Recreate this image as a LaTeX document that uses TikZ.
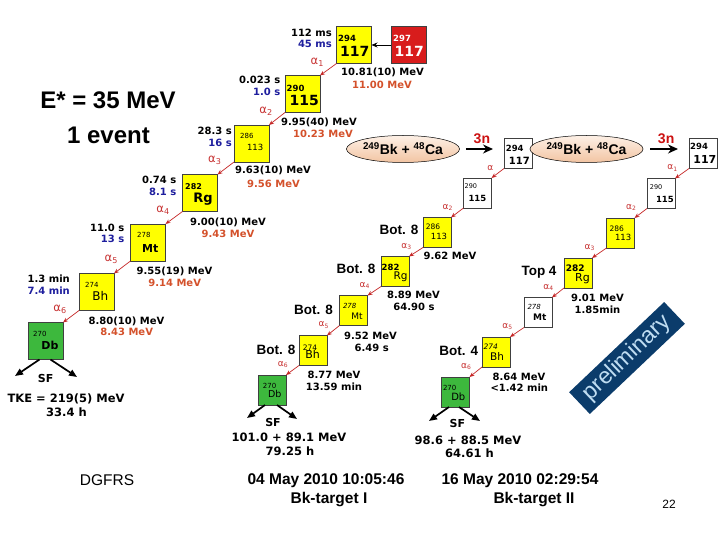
\documentclass[tikz,border=0pt]{standalone}
\usepackage{fontspec}
\setmainfont{DejaVu Sans}
\newfontfamily\arialf{Liberation Sans}
\usetikzlibrary{arrows.meta,shapes.geometric}
\definecolor{nyel}{HTML}{FFFF00}
\definecolor{nred}{HTML}{D81C1C}
\definecolor{ngrn}{HTML}{3DB83D}
\definecolor{tblue}{HTML}{1E1E9E}
\definecolor{tora}{HTML}{D4512B}
\definecolor{ared}{HTML}{C62828}
\definecolor{alabc}{HTML}{C83434}
\definecolor{bann}{HTML}{0B3C6B}
\definecolor{banntxt}{HTML}{BFDDF2}
\definecolor{peachA}{HTML}{FDF0E6}
\definecolor{peachB}{HTML}{F2C4A2}
\definecolor{redn}{HTML}{CC1111}
\newcommand\nfb[1]{\fontsize{#1}{#1}\selectfont\bfseries}
\newcommand\nfr[1]{\fontsize{#1}{#1}\selectfont\mdseries}
\newcommand\nfi[1]{\fontsize{#1}{#1}\selectfont\mdseries\itshape}
\newcommand\nbox[4]{\node[#2,fill=#4] (#1) at (#3) {};}
\newcommand\nmass[5]{\node[anchor=west,inner sep=0pt,text=#5,font=#3] (#1m) at ([shift={(#2)}]#1.west) {#4};}
\newcommand\nsym[5]{\node[anchor=east,inner sep=0pt,text=#5,font=#3] (#1s) at ([shift={(#2)}]#1.east) {#4};}
\newcommand\alf[1]{α\textsubscript{#1}}
\tikzset{
 nb/.style={draw=black!75, line width=0.5pt, inner sep=0pt, outer sep=0pt},
 bigb/.style={nb, minimum width=35pt, minimum height=37pt},
 smb/.style={nb, minimum width=28pt, minimum height=30pt},
 hl/.style={anchor=base east, inner sep=0pt, font=\nfb{10}},
 en/.style={anchor=base, inner sep=0pt, font=\nfb{10}},
 sfl/.style={anchor=base, inner sep=0pt, font=\nfb{11.5}},
 bot/.style={anchor=base, inner sep=0pt, font=\arialf\nfb{13.5}},
 aar/.style={draw=ared, line width=0.7pt, -{Stealth[length=5pt,width=4pt]}},
 alab/.style={text=alabc, anchor=south east, inner sep=1pt, font=\nfr{11.5}, xshift=-3pt, yshift=2pt},
 alabs/.style={text=alabc, anchor=south east, inner sep=1pt, font=\nfr{9}, xshift=-3pt, yshift=1pt},
 sfa/.style={line width=1.7pt, -{Triangle[length=8pt,width=6.5pt]}},
 nar/.style={line width=1.3pt, shorten <=6pt, shorten >=11pt, -{Stealth[length=10pt,width=9pt]}},
 rxn/.style={ellipse, draw=black, line width=0.5pt, top color=peachA, bottom color=peachB, minimum width=84pt, minimum height=27pt, inner sep=0pt, font=\arialf\nfb{14}},
 big/.style={anchor=base, inner sep=0pt, font=\arialf\nfb{24}},
 datel/.style={anchor=base, inner sep=0pt, font=\arialf\nfb{15.5}},
 threen/.style={above=5pt, inner sep=0pt, text=redn, font=\arialf\nfb{14}},
}
\begin{document}
\begin{tikzpicture}[x=1pt,y=-1pt]
\fill[white] (0,0) rectangle (720,540);
\useasboundingbox (0,0) rectangle (720,540);

% ---------- headline texts
\node[big] (estar) at (108,109) {E* = 35 MeV};
\node[big] (oneev) at (108.5,144) {1 event};
\node[anchor=base,inner sep=0pt,font=\arialf\nfr{15.5}] (dgfrs) at (107,485) {DGFRS};

% ---------- chain 1 (DGFRS)
\nbox{n297}{bigb}{408.5,45}{nred}
\nmass{n297}{2,-7}{\nfb{8.5}}{297}{white}
\nsym{n297}{-2,6}{\nfb{14}}{117}{white}
\nbox{n294a}{bigb}{354,45}{nyel}
\nmass{n294a}{1.5,-7}{\nfb{8.5}}{294}{black}
\nsym{n294a}{-2,6}{\nfb{14}}{117}{black}
\nbox{n290a}{bigb}{302.5,94}{nyel}
\nmass{n290a}{1.5,-6}{\nfb{8.5}}{290}{black}
\nsym{n290a}{-1,6}{\nfb{14}}{115}{black}
\nbox{n286a}{bigb}{251.5,143.5}{nyel}
\nmass{n286a}{6,-7.5}{\nfr{7}}{286}{black}
\nsym{n286a}{-5.5,4}{\nfr{8.5}}{113}{black}
\nbox{n282a}{bigb}{200,193}{nyel}
\nmass{n282a}{2.5,-6}{\nfb{8}}{282}{black}
\nsym{n282a}{-4.5,6}{\nfb{13}}{Rg}{black}
\nbox{n278a}{bigb}{148,242.5}{nyel}
\nmass{n278a}{6.5,-7.5}{\nfr{7}}{278}{black}
\nsym{n278a}{-7,6}{\nfb{11}}{Mt}{black}
\nbox{n274a}{bigb}{96.5,292}{nyel}
\nmass{n274a}{6,-7.5}{\nfr{7}}{274}{black}
\nsym{n274a}{-5.5,4.3}{\nfr{12}}{Bh}{black}
\nbox{n270a}{bigb}{45.5,341}{ngrn}
\nmass{n270a}{5,-7.5}{\nfr{7}}{270}{black}
\nsym{n270a}{-4.4,4.5}{\nfb{11}}{Db}{black}

\draw[line width=0.8pt,-{Stealth[length=6pt,width=5pt]}] (n297.west) -- (n294a.east);
\draw[aar] (n294a.south west) -- node[alab]{\alf{1}} (n290a.north east);
\draw[aar] (n290a.south west) -- node[alab]{\alf{2}} (n286a.north east);
\draw[aar] (n286a.south west) -- node[alab]{\alf{3}} (n282a.north east);
\draw[aar] (n282a.south west) -- node[alab]{\alf{4}} (n278a.north east);
\draw[aar] (n278a.south west) -- node[alab]{\alf{5}} (n274a.north east);
\draw[aar] (n274a.south west) -- node[alab]{\alf{6}} (n270a.north east);

\node[hl] (h1a) at (332,36.5) {112 ms};
\node[hl,text=tblue] (h1b) at (332,47.5) {45 ms};
\node[hl] (h2a) at (280.5,83.5) {0.023 s};
\node[hl,text=tblue] (h2b) at (280.5,96) {1.0 s};
\node[hl] (h3a) at (232,135) {28.3 s};
\node[hl,text=tblue] (h3b) at (232,147) {16 s};
\node[hl] (h4a) at (176.5,184) {0.74 s};
\node[hl,text=tblue] (h4b) at (176.5,195.7) {8.1 s};
\node[hl] (h5a) at (124.5,231.7) {11.0 s};
\node[hl,text=tblue] (h5b) at (124.5,243) {13 s};
\node[hl] (h6a) at (70,282) {1.3 min};
\node[hl,text=tblue] (h6b) at (70,294) {7.4 min};

\node[en] (e1a) at (382.5,75.5) {10.81(10) MeV};
\node[en,text=tora] (e1b) at (382,89) {11.00 MeV};
\node[en] (e2a) at (319,125.5) {9.95(40) MeV};
\node[en,text=tora] (e2b) at (323,138) {10.23 MeV};
\node[en] (e3a) at (273,173.3) {9.63(10) MeV};
\node[en,text=tora] (e3b) at (273.5,187.3) {9.56 MeV};
\node[en] (e4a) at (228,225.7) {9.00(10) MeV};
\node[en,text=tora] (e4b) at (228,237.3) {9.43 MeV};
\node[en] (e5a) at (174.5,274) {9.55(19) MeV};
\node[en,text=tora] (e5b) at (174.7,286.7) {9.14 MeV};
\node[en] (e6a) at (126.5,324) {8.80(10) MeV};
\node[en,text=tora] (e6b) at (126.7,335) {8.43 MeV};

\coordinate (sfl1) at (15,376);
\coordinate (sfr1) at (77,377);
\draw[sfa] ([xshift=-6pt]n270a.south) -- (sfl1);
\draw[sfa] ([xshift=5pt]n270a.south) -- (sfr1);
\node[sfl,font=\nfb{11}] (sf1) at (45.7,382.7) {SF};
\node[sfl] (tke) at (66,402.7) {TKE = 219(5) MeV};
\node[sfl] (t1) at (66.5,416.7) {33.4 h};

% ---------- chain 2 (Bk-target I)
\node[rxn] (rx1) at (403,149) {\textsuperscript{249}Bk + \textsuperscript{48}Ca};
\nbox{m294}{smb}{518,153.5}{white}
\nmass{m294}{1.7,-5.5}{\nfb{8.5}}{294}{black}
\nsym{m294}{-2,7}{\nfb{10}}{117}{black}
\draw[nar] (rx1.east) -- node[threen] (n3a) {3n} (rx1.east -| m294.west);
\nbox{m290}{smb}{477.5,193}{white}
\nmass{m290}{1,-7}{\nfr{6.5}}{290}{black}
\nsym{m290}{-5,5.7}{\nfb{8.5}}{115}{black}
\nbox{m286}{smb}{437,232.5}{nyel}
\nmass{m286}{2.7,-6}{\nfr{7.5}}{286}{black}
\nsym{m286}{-3.7,3.5}{\nfr{8.5}}{113}{black}
\nbox{m282}{smb}{395,271.5}{nyel}
\nmass{m282}{0.5,-4.5}{\nfb{8.5}}{282}{black}
\nsym{m282}{-1.3,5.5}{\nfr{10.5}}{Rg}{black}
\nbox{m278}{smb}{353.5,310.5}{nyel}
\nmass{m278}{3.3,-4.5}{\nfi{7}}{278}{black}
\nsym{m278}{-4.7,5.5}{\nfr{9}}{Mt}{black}
\nbox{m274}{smb}{313,350.5}{nyel}
\nmass{m274}{3.7,-2.5}{\nfr{7.5}}{274}{black}
\nsym{m274}{-7,4}{\nfr{11}}{Bh}{black}
\nbox{m270}{smb}{272,390}{ngrn}
\nmass{m270}{4.7,-3.7}{\nfr{7}}{270}{black}
\nsym{m270}{-4.3,3.7}{\nfr{9.5}}{Db}{black}

\draw[aar] (m294.south west) -- node[alabs]{α} (m290.north east);
\draw[aar] (m290.south west) -- node[alabs]{\alf{2}} (m286.north east);
\draw[aar] (m286.south west) -- node[alabs]{\alf{3}} (m282.north east);
\draw[aar] (m282.south west) -- node[alabs]{\alf{4}} (m278.north east);
\draw[aar] (m278.south west) -- node[alabs]{\alf{5}} (m274.north east);
\draw[aar] (m274.south west) -- node[alabs]{\alf{6}} (m270.north east);

\node[bot] (b1) at (399,234.3) {Bot. 8};
\node[en] (f1) at (450,259.3) {9.62 MeV};
\node[bot] (b2) at (356,273.3) {Bot. 8};
\node[en] (f2a) at (413.5,298.3) {8.89 MeV};
\node[en] (f2b) at (414,310.7) {64.90 s};
\node[bot] (b3) at (313.5,314) {Bot. 8};
\node[en] (f3a) at (370.5,339) {9.52 MeV};
\node[en] (f3b) at (371.7,351.7) {6.49 s};
\node[bot] (b4) at (276,354) {Bot. 8};
\node[en] (f4a) at (334,378.3) {8.77 MeV};
\node[en] (f4b) at (334,390.7) {13.59 min};

\coordinate (sfl2) at (247,418);
\coordinate (sfr2) at (297,419);
\draw[sfa] ([xshift=-7pt]m270.south) -- (sfl2);
\draw[sfa] ([xshift=5pt]m270.south) -- (sfr2);
\node[sfl,font=\nfb{11}] (sf2) at (273,426) {SF};
\node[sfl] (k2) at (289,441.7) {101.0 + 89.1 MeV};
\node[sfl] (t2) at (290,455.7) {79.25 h};
\node[datel] (d1) at (326,484.3) {04 May 2010 10:05:46};
\node[datel] (d1b) at (329,503.3) {Bk-target I};

% ---------- chain 3 (Bk-target II)
\node[rxn] (rx2) at (586.5,149) {\textsuperscript{249}Bk + \textsuperscript{48}Ca};
\nbox{r294}{smb}{703,153.5}{white}
\nmass{r294}{1,-7}{\nfb{8.5}}{294}{black}
\nsym{r294}{-0.5,6}{\nfb{11}}{117}{black}
\draw[nar,shorten <=7pt] (rx2.east) -- node[threen] (n3b) {3n} (rx2.east -| r294.west);
\nbox{r290}{smb}{661,193.5}{white}
\nmass{r290}{2.7,-6}{\nfr{6.5}}{290}{black}
\nsym{r290}{-1,5.5}{\nfb{8.5}}{115}{black}
\nbox{r286}{smb}{620.5,233}{nyel}
\nmass{r286}{3,-4.7}{\nfr{7.5}}{286}{black}
\nsym{r286}{-3,4}{\nfr{8.5}}{113}{black}
\nbox{r282}{smb}{578,273}{nyel}
\nmass{r282}{1.7,-4.7}{\nfb{9}}{282}{black}
\nsym{r282}{-2,6}{\nfr{11}}{Rg}{black}
\nbox{r278}{smb}{538,312.5}{white}
\nmass{r278}{3.3,-6}{\nfi{7}}{278}{black}
\nsym{r278}{-5.3,4.5}{\nfb{9}}{Mt}{black}
\nbox{r274}{smb}{496,352}{nyel}
\nmass{r274}{1.3,-5.7}{\nfi{7.5}}{274}{black}
\nsym{r274}{-5.7,5}{\nfr{10.5}}{Bh}{black}
\nbox{r270}{smb}{455.5,392}{ngrn}
\nmass{r270}{1.3,-4.5}{\nfr{7}}{270}{black}
\nsym{r270}{-4,4.3}{\nfr{10}}{Db}{black}

\draw[aar] (r294.south west) -- node[alabs]{\alf{1}} (r290.north east);
\draw[aar] (r290.south west) -- node[alabs]{\alf{2}} (r286.north east);
\draw[aar] (r286.south west) -- node[alabs]{\alf{3}} (r282.north east);
\draw[aar] (r282.south west) -- node[alabs]{\alf{4}} (r278.north east);
\draw[aar] (r278.south west) -- node[alabs]{\alf{5}} (r274.north east);
\draw[aar] (r274.south west) -- node[alabs]{\alf{6}} (r270.north east);

\node[bot] (b5) at (539,275) {Top 4};
\node[en] (g1a) at (597.5,301.7) {9.01 MeV};
\node[en] (g1b) at (597.5,313.3) {1.85min};
\node[bot] (b6) at (458.7,355) {Bot. 4};
\node[en] (g2a) at (519,380) {8.64 MeV};
\node[en] (g2b) at (519.3,391.7) {<1.42 min};

\coordinate (sfl3) at (429,421);
\coordinate (sfr3) at (480,421);
\draw[sfa] ([xshift=-6.5pt]r270.south) -- (sfl3);
\draw[sfa] ([xshift=3.5pt]r270.south) -- (sfr3);
\node[sfl,font=\nfb{11}] (sf3) at (457.3,427.7) {SF};
\node[sfl] (k3) at (468,444) {98.6 + 88.5 MeV};
\node[sfl] (t3) at (469.5,457.3) {64.61 h};
\node[datel] (d2) at (520,484.3) {16 May 2010 02:29:54};
\node[datel] (d2b) at (534,503.3) {Bk-target II};

% ---------- banner and page number
\node[fill=bann, rotate=43.5, minimum width=131pt, minimum height=30pt, inner sep=0pt, text=banntxt, font=\arialf\nfr{23}] (prelim) at (627,358) {preliminary};
\node[anchor=base,inner sep=0pt,font=\arialf\nfr{12}] (pg) at (669,508.3) {22};
\end{tikzpicture}
\end{document}
